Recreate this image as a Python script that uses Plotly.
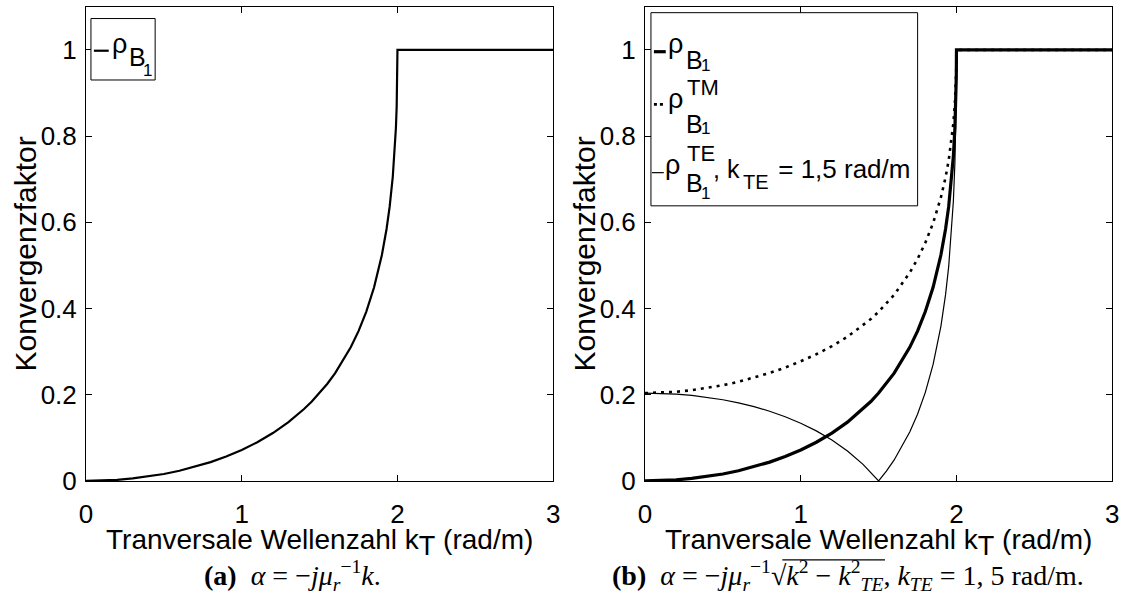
import plotly.graph_objects as go

# ---------------- data ----------------
k_t = [0, 0.1, 0.2, 0.3, 0.4, 0.5, 0.6, 0.7, 0.8, 0.9, 1.0, 1.1, 1.2, 1.3, 1.4,
       1.45, 1.5, 1.55, 1.6, 1.7, 1.75, 1.8, 1.85, 1.9, 1.93, 1.95, 1.97, 1.98,
       1.99, 1.995, 1.999, 2.0, 3.0]

rho_b1 = [0, 0.0006, 0.0025, 0.0057, 0.0102, 0.0161, 0.0236, 0.0327, 0.0436,
          0.0565, 0.0718, 0.0898, 0.1111, 0.1364, 0.1668, 0.1843, 0.2038, 0.2255,
          0.25, 0.3099, 0.3476, 0.3929, 0.4493, 0.5241, 0.5845, 0.6364, 0.7057,
          0.7528, 0.8184, 0.868, 0.9387, 1.0, 1.0]

rho_tm = [0.2038, 0.2046, 0.2068, 0.2104, 0.2155, 0.222, 0.23, 0.2395, 0.2505,
          0.263, 0.2775, 0.294, 0.3125, 0.3345, 0.3605, 0.3755, 0.3925, 0.411,
          0.4318, 0.4832, 0.5149, 0.5524, 0.5983, 0.6577, 0.7044, 0.7437, 0.7951,
          0.8293, 0.8761, 0.9107, 0.959, 1.0, 1.0]

rho_te = [0.2038, 0.2032, 0.2014, 0.1983, 0.194, 0.1883, 0.1811, 0.1723, 0.1617,
          0.149, 0.1339, 0.1161, 0.0948, 0.0693, 0.0383, 0.0202, 0.0, 0.0228,
          0.0487, 0.1133, 0.1548, 0.2055, 0.2703, 0.3586, 0.4322, 0.4971, 0.5862,
          0.6484, 0.7376, 0.807, 0.9088, 1.0, 1.0]

x_ticks = [0, 1, 2, 3]
x_ticktext = ["0", "1", "2", "3"]
y_ticks = [0, 0.2, 0.4, 0.6, 0.8, 1.0]
y_ticktext = ["0", "0.2", "0.4", "0.6", "0.8", "1"]

x_title = "Tranversale Wellenzahl k<sub><span style='font-size:27px'>T</span></sub> (rad/m)"
y_title = "Konvergenzfaktor"
caption_a = "<b>(a)</b>  <i>α</i> = −<i>jμ</i><sub><i>r</i></sub><sup>−1</sup><i>k</i>."
caption_b = ("<b>(b)</b>  <i>α</i> = −<i>jμ</i><sub><i>r</i></sub><sup>−1</sup>√"
             "<i>k</i><sup>2</sup> − <i>k</i><sup>2</sup><sub><i>TE</i></sub>, "
             "<i>k</i><sub><i>TE</i></sub> = 1, 5 rad/m.")

# ---------------- layout helpers ----------------
W, H = 1134, 612
FONT = "Liberation Sans"
SERIF = "Liberation Serif"


def px(x):
    return x / W


def py(y):
    return 1 - y / H


fig = go.Figure()

fig.add_trace(go.Scatter(x=k_t, y=rho_b1, mode="lines", name="ρ_B1",
                         line=dict(color="black", width=2.2),
                         xaxis="x", yaxis="y", showlegend=False))
fig.add_trace(go.Scatter(x=k_t, y=rho_te, mode="lines", name="ρ_B1^TE, k_TE = 1,5 rad/m",
                         line=dict(color="black", width=1.2),
                         xaxis="x2", yaxis="y2", showlegend=False))
fig.add_trace(go.Scatter(x=k_t, y=rho_tm, mode="lines", name="ρ_B1^TM",
                         line=dict(color="black", width=2.6, dash="3px,5px"),
                         xaxis="x2", yaxis="y2", showlegend=False))
fig.add_trace(go.Scatter(x=k_t, y=rho_b1, mode="lines", name="ρ_B1",
                         line=dict(color="black", width=3.2),
                         xaxis="x2", yaxis="y2", showlegend=False))

tickfont = dict(family=FONT, size=26, color="black")
ax_common = dict(showline=True, linecolor="black", linewidth=1, mirror="ticks",
                 ticks="inside", ticklen=6, tickcolor="black", tickwidth=1,
                 showgrid=False, zeroline=False, tickfont=tickfont)

y_dom = [py(493), py(7)]
fig.update_layout(
    width=W, height=H, autosize=False,
    margin=dict(l=0, r=0, t=0, b=0, pad=0),
    paper_bgcolor="white", plot_bgcolor="white",
    xaxis=dict(domain=[px(80), px(553)], range=[0, 3], tickvals=x_ticks,
               ticktext=x_ticktext, anchor="y", ticklabelstandoff=10, **ax_common),
    yaxis=dict(domain=y_dom, range=[0, 1.1], tickvals=y_ticks,
               ticktext=y_ticktext, anchor="x", ticklabelstandoff=3, **ax_common),
    xaxis2=dict(domain=[px(646), px(1119)], range=[0, 3], tickvals=x_ticks,
                ticktext=x_ticktext, anchor="y2", ticklabelstandoff=10, **ax_common),
    yaxis2=dict(domain=y_dom, range=[0, 1.1], tickvals=y_ticks,
                ticktext=y_ticktext, anchor="x2", ticklabelstandoff=3, **ax_common),
)

annotations = []
shapes = []


def txt(x, base, s, size=25, family=FONT):
    annotations.append(dict(x=px(x), y=py(base - 0.3465 * size), xref="paper",
                            yref="paper", xanchor="left", yanchor="middle",
                            showarrow=False, text=s,
                            font=dict(family=family, size=size, color="black")))


# axis titles
for cx in (316, 882):
    annotations.append(dict(x=px(cx), y=py(556), xref="paper", yref="paper",
                            xanchor="center", yanchor="middle", showarrow=False,
                            text=x_title, font=dict(family=FONT, size=28, color="black")))
for cx in (19, 585):
    annotations.append(dict(x=px(cx), y=py(260), xref="paper", yref="paper",
                            xanchor="center", yanchor="middle", showarrow=False,
                            textangle=-90, text=y_title,
                            font=dict(family=FONT, size=30, color="black")))

# captions
annotations.append(dict(x=px(289), y=py(590), xref="paper", yref="paper",
                        xanchor="center", yanchor="middle", showarrow=False,
                        text=caption_a, font=dict(family=SERIF, size=28, color="black")))
annotations.append(dict(x=px(852), y=py(590), xref="paper", yref="paper",
                        xanchor="center", yanchor="middle", showarrow=False,
                        text=caption_b, font=dict(family=SERIF, size=28, color="black")))
# vinculum of the square root in caption (b)
shapes.append(dict(type="line", xref="paper", yref="paper", x0=px(785), x1=px(889),
                   y0=py(574), y1=py(574), line=dict(color="black", width=1.2)))

# ---- legend (a) ----
shapes.append(dict(type="rect", xref="paper", yref="paper", x0=px(85), x1=px(150),
                   y0=py(82), y1=py(19), line=dict(color="black", width=1),
                   fillcolor="white", layer="above"))
shapes.append(dict(type="line", xref="paper", yref="paper", x0=px(88), x1=px(103),
                   y0=py(52), y1=py(52), line=dict(color="black", width=2.2)))
txt(104, 54, "ρ", size=27)
txt(121, 67, "B")
txt(136, 78, "1", size=17)

# ---- legend (b) ----
shapes.append(dict(type="rect", xref="paper", yref="paper", x0=px(652), x1=px(922),
                   y0=py(211), y1=py(13), line=dict(color="black", width=1),
                   fillcolor="white", layer="above"))
shapes.append(dict(type="line", xref="paper", yref="paper", x0=px(655), x1=px(667),
                   y0=py(53), y1=py(53), line=dict(color="black", width=3.2)))
txt(667, 54, "ρ", size=27)
txt(685, 70, "B")
txt(701, 73, "1", size=17)

shapes.append(dict(type="line", xref="paper", yref="paper", x0=px(655), x1=px(667),
                   y0=py(107), y1=py(107), line=dict(color="black", width=2.6, dash="3px,3px")))
txt(686, 97, "TM", size=22)
txt(667, 111, "ρ", size=27)
txt(685, 136, "B")
txt(701, 138, "1", size=17)

shapes.append(dict(type="line", xref="paper", yref="paper", x0=px(653), x1=px(665),
                   y0=py(177), y1=py(177), line=dict(color="black", width=1.2)))
txt(686, 165, "TE", size=22)
txt(664, 179, "ρ", size=27)
txt(685, 196, "B")
txt(701, 204, "1", size=17)
txt(713, 182, ", k")
txt(743, 193, "TE", size=20)
txt(772, 182, " = 1,5 rad/m", size=26)

fig.update_layout(annotations=annotations, shapes=shapes)

fig.write_html("out.html")
